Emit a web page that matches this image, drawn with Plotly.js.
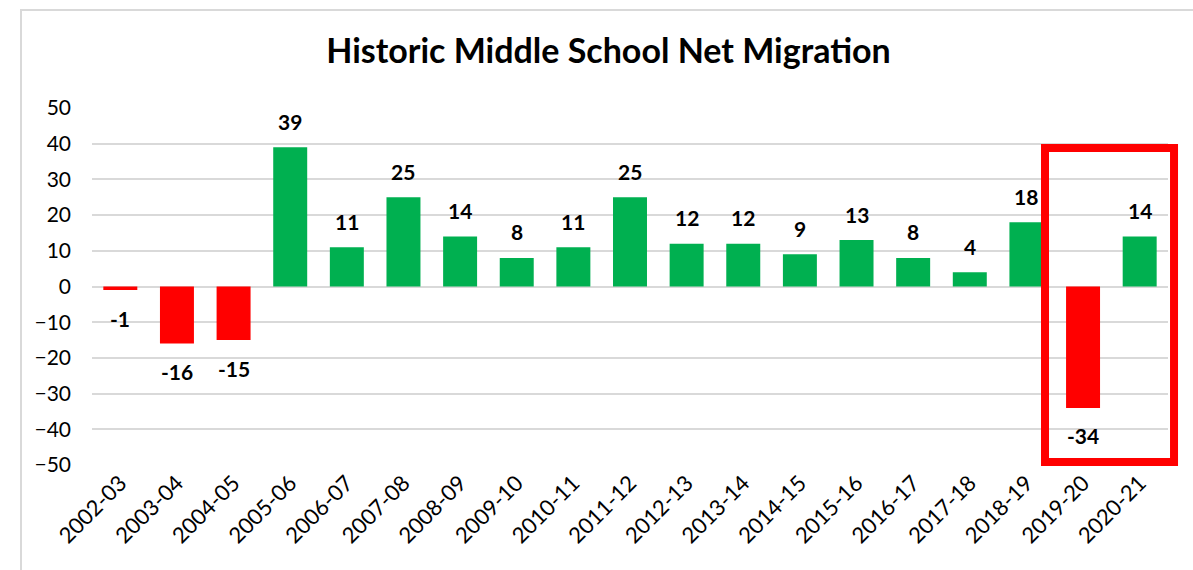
<!DOCTYPE html>
<html>
<head>
<meta charset="utf-8">
<script src="https://cdn.plot.ly/plotly-3.0.1.min.js"></script>
<style>
html,body{margin:0;padding:0;background:#fff;}
#chart{width:1193px;height:570px;}
</style>
</head>
<body>
<div id="chart"></div>
<script>
const categories = ["2002-03","2003-04","2004-05","2005-06","2006-07","2007-08","2008-09","2009-10","2010-11","2011-12","2012-13","2013-14","2014-15","2015-16","2016-17","2017-18","2018-19","2019-20","2020-21"];
const netMigration = [-1,-16,-15,39,11,25,14,8,11,25,12,12,9,13,8,4,18,-34,14];
const yTicks = [-50,-40,-30,-20,-10,0,10,20,30,40,50];

const GREEN = "#00B050", RED = "#FF0000";
const FONT = "Lato, 'Open Sans', sans-serif";

const colors = netMigration.map(v => v < 0 ? RED : GREEN);

const trace = {
  type: "bar",
  x: categories,
  y: netMigration,
  marker: {color: colors, line: {width: 0}},
  hoverinfo: "x+y"
};

const annotations = categories.map((c, i) => ({
  x: c, y: netMigration[i], xref: "x", yref: "y",
  text: "<b>" + netMigration[i] + "</b>",
  showarrow: false,
  yshift: netMigration[i] < 0 ? -28 : 26,
  yanchor: "middle",
  font: {family: FONT, size: 21, color: "#000"}
}));

const layout = {
  width: 1193, height: 570,
  paper_bgcolor: "#fff", plot_bgcolor: "#fff",
  margin: {l: 92, r: 25, t: 108, b: 105},
  bargap: 0.4,
  showlegend: false,
  title: {
    text: "<b>Historic Middle School Net Migration</b>",
    font: {family: FONT, size: 34, color: "#000"},
    x: 0.48, xref: "paper", xanchor: "center",
    y: 0.91, yref: "container", yanchor: "middle"
  },
  xaxis: {
    type: "category",
    tickangle: -45,
    tickfont: {family: FONT, size: 22, color: "#000"},
    showgrid: false, zeroline: false, showline: false, ticks: "",
    automargin: false
  },
  yaxis: {
    range: [-50, 50],
    tickvals: yTicks,
    tickfont: {family: FONT, size: 21, color: "#000"},
    showgrid: true, gridcolor: "#d9d9d9", gridwidth: 2,
    zeroline: true, zerolinecolor: "#d9d9d9", zerolinewidth: 2,
    showline: false, ticks: "",
    ticklabelstandoff: 20,
    automargin: false
  },
  annotations: annotations,
  shapes: [
    {type: "rect", xref: "paper", yref: "paper",
     x0: (21 - 92) / 1076, x1: 1.2, y0: -0.5, y1: (465 - 10) / 357,
     line: {color: "#d9d9d9", width: 2}, fillcolor: "rgba(0,0,0,0)", layer: "below"},
    {type: "rect", xref: "paper", yref: "paper",
     x0: 0.8857, x1: 1.0056, y0: 0.0084, y1: 0.888,
     line: {color: RED, width: 8}, fillcolor: "rgba(0,0,0,0)", layer: "above"}
  ]
};

Plotly.newPlot("chart", [trace], layout, {displayModeBar: false, staticPlot: true});
</script>
</body>
</html>
